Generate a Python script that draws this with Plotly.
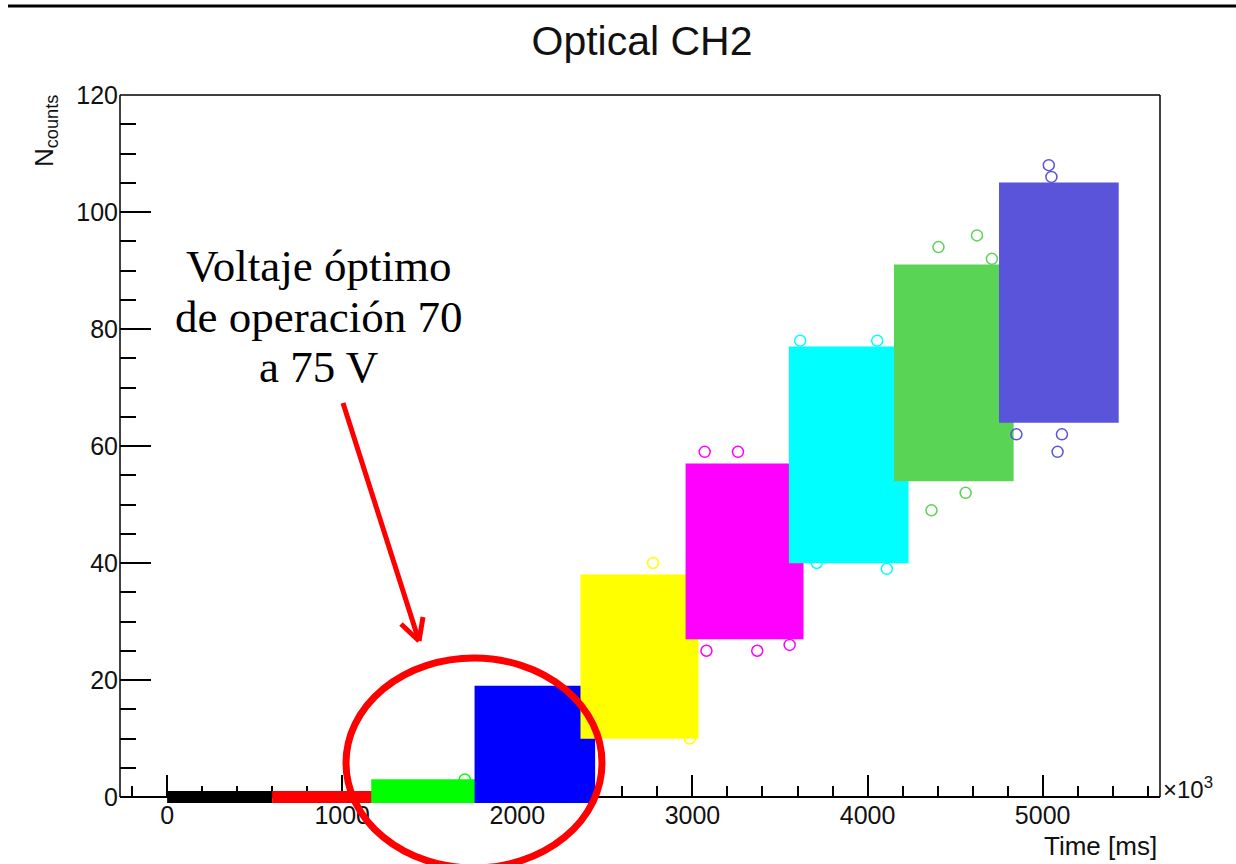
import plotly.graph_objects as go

# Voltage steps: time window (ms, axis shown in units of 10^3) and count band of each step
block_start = [0, 600, 1200, 1790, 2395, 2995, 3585, 4185, 4785]
block_end = [600, 1200, 1800, 2410, 3000, 3600, 4200, 4800, 5400]
count_low = [0, 0, 0, 0, 11, 28, 41, 55, 65]
count_high = [0, 0, 2, 18, 37, 56, 76, 90, 104]
block_color = ["#000000", "#ff0000", "#00ff00", "#0000ff", "#ffff00",
               "#ff00ff", "#00ffff", "#59d454", "#5954d9"]

# Isolated readings lying outside each band
outlier_t = [[], [], [1700], [], [2775, 2985],
             [3080, 3370, 3555, 3070, 3260],
             [3615, 4055, 4110, 3710],
             [4405, 4625, 4710, 4365, 4560],
             [5035, 5050, 5085, 4850, 5110]]
outlier_n = [[], [], [3], [], [40, 10],
             [25, 25, 26, 59, 59],
             [78, 78, 39, 40],
             [94, 96, 92, 49, 52],
             [108, 106, 59, 62, 62]]

x_ticks = [0, 1000, 2000, 3000, 4000, 5000]
y_ticks = [0, 20, 40, 60, 80, 100, 120]

# Frame geometry in pixels: the drawing area reaches a little below the
# time axis so that the bands sitting on zero are not cut in half.
W, H = 1236, 864
L, R, T = 120, 1160, 95
B_AXIS = 797          # pixel row of the time axis (N = 0)
B_AREA = 804          # bottom of the drawing area
Y_TOP = 120
unit_px = (B_AXIS - T) / Y_TOP
y_min = -(B_AREA - B_AXIS) / unit_px


def px(xp):
    return (xp - L) / (R - L)


def py(yp):
    return (B_AREA - yp) / (B_AREA - T)


fig = go.Figure()

for t0, t1, lo, hi, col, ot, on in zip(block_start, block_end, count_low, count_high,
                                      block_color, outlier_t, outlier_n):
    # outline walks one edge twice so every corner gets a proper join
    fig.add_trace(go.Scatter(
        x=[t0, t1, t1, t0, t0, t1], y=[lo, lo, hi, hi, lo, lo],
        mode="lines", fill="toself", fillcolor=col,
        line=dict(color=col, width=12), hoverinfo="skip", showlegend=False))
    if ot:
        fig.add_trace(go.Scatter(
            x=ot, y=on, mode="markers", cliponaxis=False, showlegend=False,
            marker=dict(symbol="circle-open", size=11, color=col, line=dict(width=1.5))))

sans = "Liberation Sans, Arial, Helvetica, sans-serif"
serif = "Liberation Serif, Times New Roman, serif"
ink = "#111111"

axis_common = dict(
    ticks="inside", tickcolor="black", tickwidth=1.5,
    showgrid=False, zeroline=False, layer="below traces",
    tickfont=dict(family=sans, size=25, color=ink),
)

fig.update_xaxes(
    range=[-269, 5670], tickmode="array", tickvals=x_ticks,
    anchor="free", position=(B_AREA - B_AXIS) / (B_AREA - T),
    showline=True, linecolor="black", linewidth=1.5, mirror=False,
    ticklen=21, ticklabelstandoff=-4,
    minor=dict(dtick=200, tick0=0, ticks="inside", ticklen=10, tickcolor="black", tickwidth=1.5),
    **axis_common)
fig.update_yaxes(
    range=[y_min, Y_TOP], tickmode="array", tickvals=y_ticks,
    showline=False,
    ticklen=31, ticklabelstandoff=1,
    minor=dict(dtick=5, tick0=0, ticks="inside", ticklen=16, tickcolor="black", tickwidth=1.5),
    **axis_common)

annotations = [
    dict(text="N<sub>counts</sub>", textangle=-90, x=px(45), y=py(93),
         xanchor="center", yanchor="top", font=dict(family=sans, size=26, color=ink)),
    dict(text="Time [ms]", x=px(1159), y=py(846), xanchor="right", yanchor="middle",
         font=dict(family=sans, size=26, color=ink)),
    dict(text="×10<sup>3</sup>", x=px(1161), y=py(788), xanchor="left", yanchor="middle",
         font=dict(family=sans, size=24, color=ink)),
    dict(text="Voltaje óptimo", x=px(318), y=py(266), xanchor="center", yanchor="middle",
         font=dict(family=serif, size=45, color="black")),
    dict(text="de operación 70", x=px(318), y=py(317), xanchor="center", yanchor="middle",
         font=dict(family=serif, size=45, color="black")),
    dict(text="a 75 V", x=px(318), y=py(367), xanchor="center", yanchor="middle",
         font=dict(family=serif, size=45, color="black")),
]
for a in annotations:
    a.update(xref="paper", yref="paper", showarrow=False)

red = "#ff0000"
frame = dict(color="black", width=1.5)
shapes = [
    # frame: left, right and top edges
    dict(type="line", x0=px(L), x1=px(L), y0=py(B_AXIS), y1=py(T), line=frame, layer="below"),
    dict(type="line", x0=px(R), x1=px(R), y0=py(B_AXIS), y1=py(T), line=frame, layer="below"),
    dict(type="line", x0=px(L), x1=px(R), y0=py(T), y1=py(T), line=frame, layer="below"),
    # page rule along the top
    dict(type="line", x0=px(8), x1=px(W), y0=py(6), y1=py(6), line=dict(color="black", width=3)),
    # pointer arrow
    dict(type="line", x0=px(343), y0=py(403), x1=px(419), y1=py(641), line=dict(color=red, width=5)),
    dict(type="line", x0=px(401), y0=py(624), x1=px(419), y1=py(641), line=dict(color=red, width=5)),
    dict(type="line", x0=px(423), y0=py(617), x1=px(419), y1=py(641), line=dict(color=red, width=5)),
    # highlight ring
    dict(type="circle", x0=px(346), x1=px(602), y0=py(658), y1=py(868),
         line=dict(color=red, width=7)),
]
for s in shapes:
    s.update(xref="paper", yref="paper")
    s.setdefault("layer", "above")

fig.update_layout(
    width=W, height=H,
    margin=dict(l=L, r=W - R, t=T, b=H - B_AREA),
    paper_bgcolor="white", plot_bgcolor="white",
    title=dict(text="Optical CH2", x=642 / W, xref="container", xanchor="center",
               y=1 - 41 / H, yref="container", yanchor="middle",
               font=dict(family=sans, size=41, color=ink)),
    annotations=annotations, shapes=shapes,
)

fig.write_html("out.html")
